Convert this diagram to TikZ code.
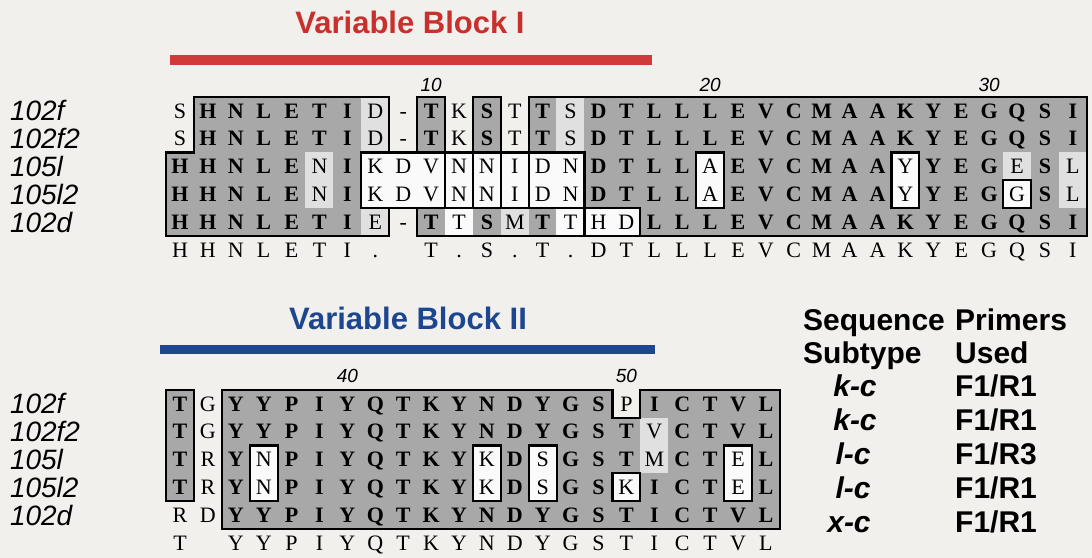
\documentclass[tikz,border=0pt]{standalone}
\usepackage{fontspec}
\setmainfont{Liberation Serif}
\setsansfont{Liberation Sans}
\newfontfamily\seqfont{Liberation Serif}
\newfontfamily\labfont{Liberation Sans}
\definecolor{bg}{HTML}{F2F0EC}
\definecolor{cellgray}{HTML}{A8A8A8}
\definecolor{celllight}{HTML}{E0E0E0}
\definecolor{cellwhite}{HTML}{FAFAFA}
\definecolor{redtitle}{HTML}{C8302E}
\definecolor{redbar}{HTML}{D03A3A}
\definecolor{bluetitle}{HTML}{1C468F}
\definecolor{bluebar}{HTML}{1F4590}
\tikzset{
  cellbase/.style={minimum width=27.9bp, minimum height=27.8bp, inner sep=0pt, outer sep=0pt,
    text height=14.6bp, text depth=0pt, font=\seqfont\fontsize{22bp}{24bp}\selectfont},
  cellg/.style={cellbase, fill=cellgray, draw=cellgray, line width=0.4bp,
    font=\seqfont\fontsize{22bp}{24bp}\selectfont\bfseries},
  celll/.style={cellbase, fill=celllight, draw=celllight, line width=0.4bp},
  cellw/.style={cellbase, fill=cellwhite, draw=cellwhite, line width=0.4bp},
  celln/.style={cellbase},
  cellc/.style={cellbase},
  seqbox/.style={draw=black, line width=2.2bp, line join=miter},
  seqlabel/.style={anchor=west, inner sep=0pt, text height=20bp, text depth=0pt,
    font=\labfont\itshape\fontsize{28bp}{30bp}\selectfont},
  posnum/.style={inner sep=0pt, font=\labfont\itshape\fontsize{19bp}{21bp}\selectfont},
  blocktitle/.style={inner sep=0pt, font=\labfont\bfseries\fontsize{31bp}{33bp}\selectfont},
  tabtext/.style={anchor=west, inner sep=0pt, text height=21.5bp, text depth=0pt,
    font=\labfont\bfseries\fontsize{30bp}{32bp}\selectfont},
  tabsub/.style={inner sep=0pt, text height=21.5bp, text depth=0pt,
    font=\labfont\bfseries\itshape\fontsize{30bp}{32bp}\selectfont}
}
\newcommand\seqrow[3]{%
  \foreach \ch/\st [count=\c] in {#3} {
    \node[style/.expanded=cell\st] (#1r#2c\c) at (\c-0.5,#2-0.5) {\ch};
  }%
}
\begin{document}
\begin{tikzpicture}[x=1bp,y=1bp]
\useasboundingbox (0,0) rectangle (1092,558);
\fill[bg] (0,0) rectangle (1092,558);
% titles and bars
\node[blocktitle, text=redtitle] (title1) at (410,536) {Variable Block I};
\fill[redbar] (170,503) rectangle (652,493);
\node[blocktitle, text=bluetitle] (title2) at (408,240) {Variable Block II};
\fill[bluebar] (160,213) rectangle (655,204);
% ---------------- Block I
\begin{scope}[shift={(166.05bp,461bp)}, x=27.9bp, y=-27.8bp]
\seqrow{A}{1}{S/n,H/g,N/g,L/g,E/g,T/g,I/g,D/l,-/n,T/g,K/n,S/g,T/n,T/g,S/l,D/g,T/g,L/g,L/g,L/g,E/g,V/g,C/g,M/g,A/g,A/g,K/g,Y/g,E/g,G/g,Q/g,S/g,I/g}
\seqrow{A}{2}{S/n,H/g,N/g,L/g,E/g,T/g,I/g,D/l,-/n,T/g,K/n,S/g,T/n,T/g,S/l,D/g,T/g,L/g,L/g,L/g,E/g,V/g,C/g,M/g,A/g,A/g,K/g,Y/g,E/g,G/g,Q/g,S/g,I/g}
\seqrow{A}{3}{H/g,H/g,N/g,L/g,E/g,N/l,I/g,K/w,D/w,V/w,N/w,N/w,I/w,D/w,N/w,D/g,T/g,L/g,L/g,A/w,E/g,V/g,C/g,M/g,A/g,A/g,Y/w,Y/g,E/g,G/g,E/l,S/g,L/l}
\seqrow{A}{4}{H/g,H/g,N/g,L/g,E/g,N/l,I/g,K/w,D/w,V/w,N/w,N/w,I/w,D/w,N/w,D/g,T/g,L/g,L/g,A/w,E/g,V/g,C/g,M/g,A/g,A/g,Y/w,Y/g,E/g,G/g,G/w,S/g,L/l}
\seqrow{A}{5}{H/g,H/g,N/g,L/g,E/g,T/g,I/g,E/l,-/n,T/g,T/w,S/g,M/l,T/g,T/w,H/w,D/w,L/g,L/g,L/g,E/g,V/g,C/g,M/g,A/g,A/g,K/g,Y/g,E/g,G/g,Q/g,S/g,I/g}
\seqrow{A}{6}{H/c,H/c,N/c,L/c,E/c,T/c,I/c,./c,{}/c,T/c,./c,S/c,./c,T/c,./c,D/c,T/c,L/c,L/c,L/c,E/c,V/c,C/c,M/c,A/c,A/c,K/c,Y/c,E/c,G/c,Q/c,S/c,I/c}
% boxes
\draw[seqbox] (1,0) -- (8,0) -- (8,2) -- (7,2) -- (7,4) -- (8,4) -- (8,5) -- (0,5) -- (0,2) -- (1,2) -- cycle;
\draw[seqbox] (9,0) rectangle (10,2);
\draw[seqbox] (11,0) rectangle (12,2);
\draw[seqbox] (13,0) -- (33,0) -- (33,5) -- (17,5) -- (17,4) -- (15,4) -- (15,2) -- (13,2) -- cycle;
\draw[seqbox] (7,2) rectangle (10,4);
\draw[seqbox] (10,2) rectangle (11,4);
\draw[seqbox] (11,2) rectangle (12,4);
\draw[seqbox] (12,2) rectangle (13,4);
\draw[seqbox] (13,2) rectangle (15,4);
\draw[seqbox] (9,4) rectangle (15,5);
\draw[seqbox] (15,4) rectangle (17,5);
\draw[seqbox] (19,2) rectangle (20,4);
\draw[seqbox] (26,2) rectangle (27,4);
\draw[seqbox] (30,3) rectangle (31,4);
% position numbers
\node[posnum] (n10) at (9.5,-0.42) {10};
\node[posnum] (n20) at (19.5,-0.42) {20};
\node[posnum] (n30) at (29.5,-0.42) {30};
% labels
\node[seqlabel] (la1) at (-5.6,0.5) {102f};
\node[seqlabel] (la2) at (-5.6,1.5) {102f2};
\node[seqlabel] (la3) at (-5.6,2.5) {105l};
\node[seqlabel] (la4) at (-5.6,3.5) {105l2};
\node[seqlabel] (la5) at (-5.6,4.5) {102d};
\end{scope}
% ---------------- Block II
\begin{scope}[shift={(166.05bp,168bp)}, x=27.9bp, y=-27.8bp]
\seqrow{B}{1}{T/g,G/n,Y/g,Y/g,P/g,I/g,Y/g,Q/g,T/g,K/g,Y/g,N/g,D/g,Y/g,G/g,S/g,P/n,I/g,C/g,T/g,V/g,L/g}
\seqrow{B}{2}{T/g,G/n,Y/g,Y/g,P/g,I/g,Y/g,Q/g,T/g,K/g,Y/g,N/g,D/g,Y/g,G/g,S/g,T/g,V/l,C/g,T/g,V/g,L/g}
\seqrow{B}{3}{T/g,R/n,Y/g,N/w,P/g,I/g,Y/g,Q/g,T/g,K/g,Y/g,K/w,D/g,S/w,G/g,S/g,T/g,M/l,C/g,T/g,E/w,L/g}
\seqrow{B}{4}{T/g,R/n,Y/g,N/w,P/g,I/g,Y/g,Q/g,T/g,K/g,Y/g,K/w,D/g,S/w,G/g,S/g,K/w,I/g,C/g,T/g,E/w,L/g}
\seqrow{B}{5}{R/n,D/n,Y/g,Y/g,P/g,I/g,Y/g,Q/g,T/g,K/g,Y/g,N/g,D/g,Y/g,G/g,S/g,T/g,I/g,C/g,T/g,V/g,L/g}
\seqrow{B}{6}{T/c,{}/c,Y/c,Y/c,P/c,I/c,Y/c,Q/c,T/c,K/c,Y/c,N/c,D/c,Y/c,G/c,S/c,T/c,I/c,C/c,T/c,V/c,L/c}
\draw[seqbox] (0,0) rectangle (1,4);
\draw[seqbox] (2,0) -- (16,0) -- (16,1) -- (17,1) -- (17,0) -- (22,0) -- (22,5) -- (2,5) -- cycle;
\draw[seqbox] (3,2) rectangle (4,4);
\draw[seqbox] (11,2) rectangle (12,4);
\draw[seqbox] (13,2) rectangle (14,4);
\draw[seqbox] (16,3) rectangle (17,4);
\draw[seqbox] (20,2) rectangle (21,4);
\node[posnum] (n40) at (6.5,-0.5) {40};
\node[posnum] (n50) at (16.5,-0.5) {50};
\node[seqlabel] (lb1) at (-5.6,0.5) {102f};
\node[seqlabel] (lb2) at (-5.6,1.5) {102f2};
\node[seqlabel] (lb3) at (-5.6,2.5) {105l};
\node[seqlabel] (lb4) at (-5.6,3.5) {105l2};
\node[seqlabel] (lb5) at (-5.6,4.5) {102d};
\end{scope}
% ---------------- table
\node[tabtext] (h1) at (803,238) {Sequence};
\node[tabtext] (h2) at (955,238) {Primers};
\node[tabtext] (h3) at (803,205) {Subtype};
\node[tabtext] (h4) at (955,205) {Used};
\node[tabsub] (s1) at (855,172) {k-c};
\node[tabsub] (s2) at (855,138) {k-c};
\node[tabsub] (s3) at (853,104) {l-c};
\node[tabsub] (s4) at (853,70) {l-c};
\node[tabsub] (s5) at (849,36) {x-c};
\node[tabtext] (p1) at (955,172) {F1/R1};
\node[tabtext] (p2) at (955,138) {F1/R1};
\node[tabtext] (p3) at (955,104) {F1/R3};
\node[tabtext] (p4) at (955,70) {F1/R1};
\node[tabtext] (p5) at (955,36) {F1/R1};
\end{tikzpicture}
\end{document}
